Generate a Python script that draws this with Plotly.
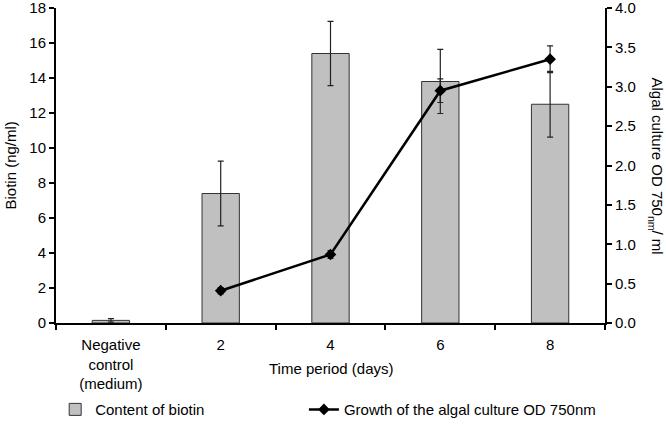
import plotly.graph_objects as go

categories = ["Negative<br>control<br>(medium)", "2", "4", "6", "8"]
biotin = [0.15, 7.4, 15.4, 13.8, 12.5]
biotin_err = [0.1, 1.85, 1.83, 1.83, 1.88]

od_days = ["2", "4", "6", "8"]
od = [0.41, 0.87, 2.95, 3.35]
od_err = [0.04, 0.05, 0.15, 0.17]

FONT = "Liberation Sans, Arial, sans-serif"
FS = 15

fig = go.Figure()
fig.add_trace(go.Bar(
    x=categories, y=biotin, name="Content of biotin",
    marker=dict(color="#c0c0c0", line=dict(color="#333333", width=1)),
    error_y=dict(type="data", array=biotin_err, color="#222222", thickness=1.2, width=3),
    width=0.34, yaxis="y", legend="legend"))
fig.add_trace(go.Scatter(
    x=od_days, y=od, name="Growth of the algal culture OD 750nm",
    mode="lines+markers", line=dict(color="black", width=2.5),
    marker=dict(symbol="diamond", size=9, color="black"),
    error_y=dict(type="data", array=od_err, color="#222222", thickness=1.2, width=3),
    yaxis="y2", legend="legend2"))

fig.update_layout(
    width=666, height=426,
    margin=dict(l=56, r=61, t=8, b=103, autoexpand=False),
    paper_bgcolor="white", plot_bgcolor="white",
    font=dict(family=FONT, size=FS, color="black"),
    showlegend=True,
    legend=dict(orientation="h", x=-0.0015, xanchor="left", y=-0.275, yanchor="middle",
                font=dict(size=FS)),
    legend2=dict(orientation="h", x=0.4516, xanchor="left", y=-0.275, yanchor="middle",
                 font=dict(size=FS)),
    xaxis=dict(type="category", showline=True, linecolor="black", linewidth=2,
               ticks="outside", ticklen=5, tickwidth=2, tickcolor="black",
               tickson="boundaries", showgrid=False, tickfont=dict(size=FS),
               ticklabelstandoff=7, range=[-0.5, 4.5], automargin=False),
    yaxis=dict(range=[0, 18], dtick=2, showline=True, linecolor="black", linewidth=2,
               ticks="outside", ticklen=5, tickwidth=2, tickcolor="black",
               showgrid=False, zeroline=False, tickfont=dict(size=FS),
               ticklabeloverflow="allow", automargin=False),
    yaxis2=dict(range=[0, 4], dtick=0.5, tickformat=".1f", overlaying="y", side="right",
                showline=True, linecolor="black", linewidth=2,
                ticks="outside", ticklen=5, tickwidth=2, tickcolor="black",
                showgrid=False, zeroline=False, tickfont=dict(size=FS),
                ticklabeloverflow="allow", automargin=False),
)

fig.add_annotation(text="Biotin (ng/ml)", xref="paper", yref="paper",
                   x=0.0, xshift=-46, xanchor="center", y=0.5, yanchor="middle",
                   textangle=-90, showarrow=False, font=dict(size=FS))
fig.add_annotation(text="Time period (days)", xref="paper", yref="paper",
                   x=0.5, y=-0.145, yanchor="middle", showarrow=False,
                   font=dict(size=FS))
fig.add_annotation(text="Algal culture OD 750<sub>nm</sub>/ ml", xref="paper", yref="paper",
                   x=1.0, xshift=51, xanchor="center", y=0.5, yanchor="middle",
                   textangle=90, showarrow=False, font=dict(size=FS))

fig.write_html("out.html", config={"displayModeBar": False},
               post_script="document.body.style.margin='0';")
